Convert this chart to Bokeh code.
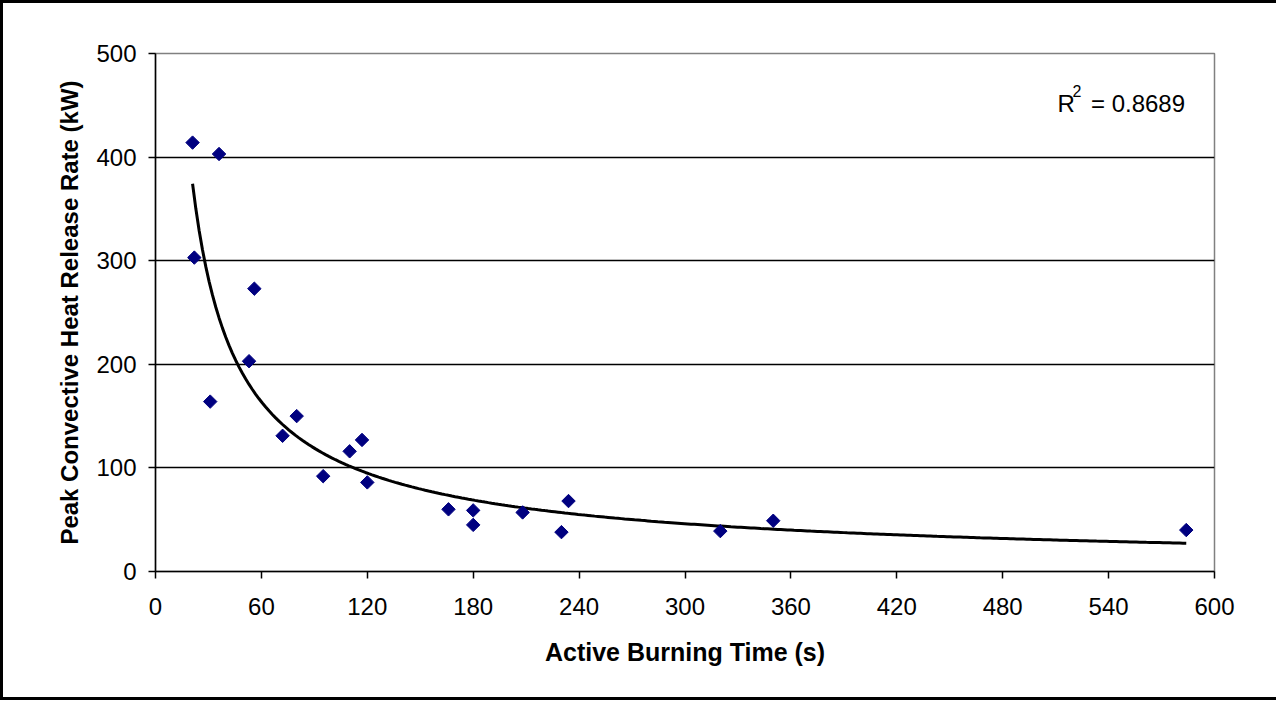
import numpy as np
from bokeh.plotting import figure
from bokeh.models import FixedTicker, Label, Range1d
from bokeh.embed import file_html
from bokeh.resources import INLINE

# Data
burn_time = [21, 36, 22, 31, 56, 53, 72, 80, 95, 110, 117, 120,
             166, 180, 180, 208, 234, 230, 320, 350, 584]
peak_hrr = [414, 403, 303, 164, 273, 203, 131, 150, 92, 116, 127, 86,
            60, 59, 45, 57, 68, 38, 39, 49, 40]
x_ticks = [0, 60, 120, 180, 240, 300, 360, 420, 480, 540, 600]
y_ticks = [0, 100, 200, 300, 400, 500]
r2_value = "0.8689"

# Power-law trendline fitted to the data (as the spreadsheet does)
bx = np.array(burn_time, dtype=float)
by = np.array(peak_hrr, dtype=float)
b, ln_a = np.polyfit(np.log(bx), np.log(by), 1)
fx = np.linspace(bx.min(), bx.max(), 300)
fy = np.exp(ln_a) * fx ** b

FONT = "Liberation Sans"

p = figure(width=1276, height=700, output_backend="svg", toolbar_location=None,
           x_range=Range1d(0, 600), y_range=Range1d(0, 500),
           min_border_left=152, min_border_right=65,
           min_border_top=50, min_border_bottom=132)
p.styles = {"border-left": "3px solid black", "border-top": "3px solid black",
            "border-bottom": "3px solid black"}

p.outline_line_color = "#808080"
p.outline_line_width = 1.5
p.background_fill_color = "white"
p.border_fill_color = "white"

p.xgrid.visible = False
p.ygrid.ticker = FixedTicker(ticks=[100, 200, 300, 400])
p.ygrid.grid_line_color = "black"
p.ygrid.grid_line_width = 1.6

for ax in (p.xaxis[0], p.yaxis[0]):
    ax.axis_line_color = "black"
    ax.axis_line_width = 1.5
    ax.major_tick_line_color = "black"
    ax.major_tick_line_width = 1.5
    ax.major_tick_in = 0
    ax.major_tick_out = 7
    ax.minor_tick_line_color = None
    ax.major_label_text_font = FONT
    ax.major_label_text_font_size = "24px"
    ax.major_label_text_color = "black"
    ax.axis_label_text_font = FONT
    ax.axis_label_text_font_style = "bold"
    ax.axis_label_text_color = "black"

p.xaxis.axis_label_text_font_size = "25px"
p.yaxis.axis_label_text_font_size = "24px"
p.xaxis.ticker = FixedTicker(ticks=x_ticks)
p.yaxis.ticker = FixedTicker(ticks=y_ticks)
p.xaxis.axis_label = "Active Burning Time (s)"
p.yaxis.axis_label = "Peak Convective Heat Release Rate (kW)"
p.xaxis.major_label_standoff = 19
p.xaxis.axis_label_standoff = 20
p.yaxis.major_label_standoff = 12
p.yaxis.axis_label_standoff = 10

p.line(fx, fy, line_color="black", line_width=3)
p.scatter(burn_time, peak_hrr, marker="square", angle=np.pi / 4, size=9.5,
          fill_color="#000080", line_color="#000080")

p.add_layout(Label(x=511, y=452, text="R", text_font=FONT, text_font_size="24px",
                   text_color="black", text_baseline="alphabetic"))
p.add_layout(Label(x=519.5, y=464, text="2", text_font=FONT, text_font_size="16px",
                   text_color="black", text_baseline="alphabetic"))
p.add_layout(Label(x=530, y=452, text="= " + r2_value, text_font=FONT,
                   text_font_size="24px", text_color="black",
                   text_baseline="alphabetic"))

open("out.html", "w").write(file_html(p, INLINE))
